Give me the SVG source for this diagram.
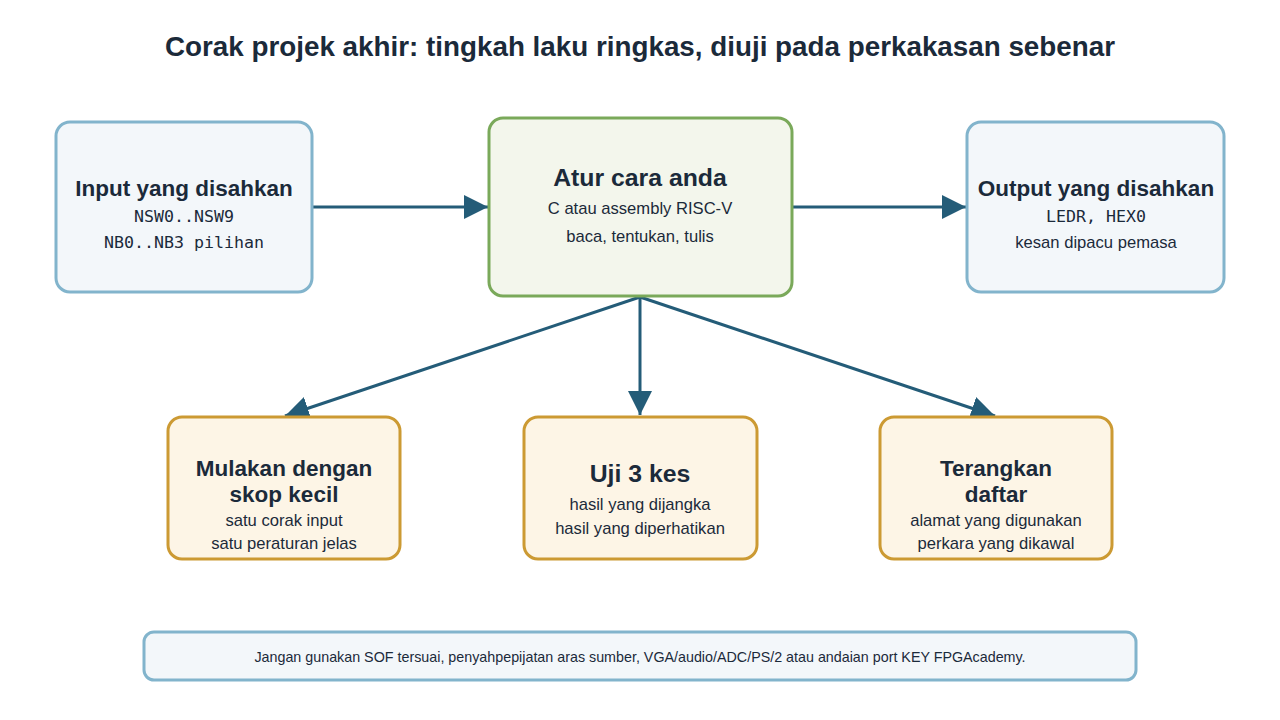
<svg xmlns="http://www.w3.org/2000/svg" width="1280" height="720" viewBox="0 0 1280 720">
<defs>
<marker id="ah" markerWidth="8" markerHeight="8" refX="8" refY="4" orient="auto" markerUnits="strokeWidth">
<path d="M0,0 L8,4 L0,8 Z" fill="#245c78"/>
</marker>
<style>
.t{font-family:"Liberation Sans",Arial,sans-serif;fill:#1b2a3a;text-anchor:middle}
.h{font-weight:bold;font-size:22.5px}
.s{font-size:16.6px}
.m{font-family:"DejaVu Sans Mono","Liberation Mono",monospace;font-size:16.6px;fill:#1b2a3a;text-anchor:middle}
.blue{fill:#f3f7fa;stroke:#82b4cc;stroke-width:3}
.green{fill:#f3f6ec;stroke:#7aa95a;stroke-width:3}
.gold{fill:#fdf5e6;stroke:#cc9a33;stroke-width:3}
.c{stroke:#245c78;stroke-width:3;fill:none;marker-end:url(#ah)}
</style>
</defs>
<rect width="1280" height="720" fill="#ffffff"/>
<text class="t" x="640" y="56" font-size="27.8" font-weight="bold">Corak projek akhir: tingkah laku ringkas, diuji pada perkakasan sebenar</text>
<g id="connectors">
<line class="c" x1="313" y1="207" x2="488" y2="207"/>
<line class="c" x1="793" y1="207" x2="966" y2="207"/>
<line class="c" x1="640" y1="297" x2="285" y2="416"/>
<line class="c" x1="640" y1="297" x2="640" y2="415"/>
<line class="c" x1="640" y1="297" x2="995" y2="416"/>
</g>
<g id="input">
<rect class="blue" x="56" y="122" width="256" height="170" rx="14"/>
<text class="t h" x="184" y="196">Input yang disahkan</text>
<text class="m" x="184" y="222">NSW0..NSW9</text>
<text class="m" x="184" y="248">NB0..NB3 pilihan</text>
</g>
<g id="center">
<rect class="green" x="489" y="118" width="303" height="178" rx="14"/>
<text class="t" x="640" y="186" font-size="24.8" font-weight="bold">Atur cara anda</text>
<text class="t s" x="640" y="214">C atau assembly RISC-V</text>
<text class="t s" x="640" y="242">baca, tentukan, tulis</text>
</g>
<g id="output">
<rect class="blue" x="967" y="122" width="257" height="170" rx="14"/>
<text class="t h" x="1096" y="196">Output yang disahkan</text>
<text class="m" x="1096" y="222">LEDR, HEX0</text>
<text class="t s" x="1096" y="248">kesan dipacu pemasa</text>
</g>
<g id="mulakan">
<rect class="gold" x="168" y="417" width="232" height="142" rx="14"/>
<text class="t h" x="284" y="476">Mulakan dengan</text>
<text class="t h" x="284" y="502">skop kecil</text>
<text class="t s" x="284" y="526">satu corak input</text>
<text class="t s" x="284" y="549">satu peraturan jelas</text>
</g>
<g id="uji">
<rect class="gold" x="524" y="417" width="233" height="142" rx="14"/>
<text class="t" x="640" y="482" font-size="24.8" font-weight="bold">Uji 3 kes</text>
<text class="t s" x="640" y="510">hasil yang dijangka</text>
<text class="t s" x="640" y="534">hasil yang diperhatikan</text>
</g>
<g id="terangkan">
<rect class="gold" x="880" y="417" width="232" height="142" rx="14"/>
<text class="t h" x="996" y="476">Terangkan</text>
<text class="t h" x="996" y="502">daftar</text>
<text class="t s" x="996" y="526">alamat yang digunakan</text>
<text class="t s" x="996" y="549">perkara yang dikawal</text>
</g>
<g id="footer">
<rect class="blue" x="144" y="632" width="992" height="48" rx="10"/>
<text class="t" x="640" y="662" font-size="14.3">Jangan gunakan SOF tersuai, penyahpepijatan aras sumber, VGA/audio/ADC/PS/2 atau andaian port KEY FPGAcademy.</text>
</g>
</svg>
